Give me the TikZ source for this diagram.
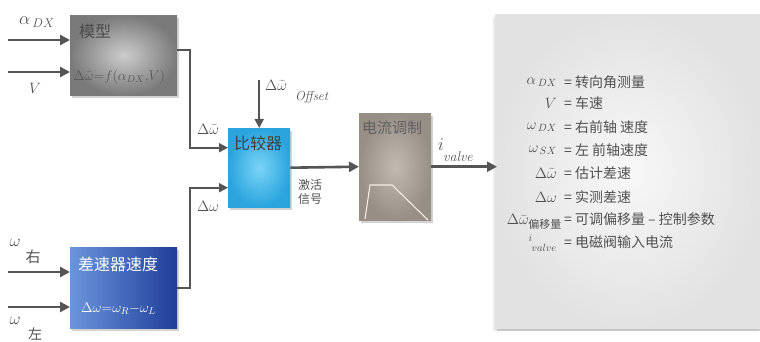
\RequirePackage{fix-cm}
\documentclass[tikz,border=0pt]{standalone}
\usepackage{fontspec}
\newfontfamily\cjk{Noto Sans CJK SC}
\usetikzlibrary{arrows.meta,shadows}
\definecolor{arr}{HTML}{555555}
\definecolor{txt}{HTML}{505050}
\definecolor{cyanA}{HTML}{7AD4F6}
\definecolor{cyanB}{HTML}{2BA4DE}
\definecolor{blueA}{HTML}{6A95DC}
\definecolor{blueB}{HTML}{1F3D98}
\definecolor{taupeA}{HTML}{C2B9B1}
\definecolor{taupeB}{HTML}{978E86}
\definecolor{panelA}{HTML}{F8F8F8}
\definecolor{panelB}{HTML}{E2E2E2}
\begin{document}
\begin{tikzpicture}[x=1pt,y=-1pt,
  box/.style={draw=none, anchor=north west, inner sep=0pt,
    drop shadow={shadow xshift=2pt,shadow yshift=-3pt,opacity=0.35}},
  inarrow/.style={draw=arr, line width=2.8pt, -{Triangle[length=10pt,width=10pt]}},
  conn/.style={draw=arr, line width=1.8pt, -{Triangle[length=9pt,width=9pt]}},
  thick conn/.style={draw=arr, line width=2.6pt, -{Triangle[length=10pt,width=10pt]}},
  cjkt/.style={font=\cjk\fontsize{16}{18}\selectfont, inner sep=0pt},
  mlab/.style={text=txt, inner sep=0pt},
  leg/.style={font=\cjk\fontsize{14}{16}\selectfont, text=txt, inner sep=0pt, anchor=west},
  legm/.style={text=txt, inner sep=0pt, anchor=east, font=\fontsize{15}{16}\selectfont}]
\useasboundingbox (0,0) rectangle (760,342);

% legend panel
\node[box, minimum width=266pt, minimum height=314pt, inner color=panelA, outer color=panelB,
  drop shadow={shadow xshift=-2pt,shadow yshift=-3pt,opacity=0.15}] (panel) at (495,14) {};

% boxes
\node[box, minimum width=107pt, minimum height=80pt, inner color=black!20, outer color=black!52] (model) at (70,15) {};
\node[box, minimum width=62pt, minimum height=79pt, inner color=cyanA, outer color=cyanB] (comp) at (228,128) {};
\node[box, minimum width=107pt, minimum height=81pt, left color=blueA, right color=blueB] (diff) at (70,247) {};
\node[box, minimum width=72pt, minimum height=107pt, inner color=taupeA, outer color=taupeB] (cur) at (359,113) {};

% box texts
\node[cjkt, text=black!70, anchor=west] (tmodel) at (79,31) {模型};
\node[mlab, text=black!65, anchor=west, font=\fontsize{14}{15}\selectfont] (fmodel) at (73,77) {$\Delta\widetilde{\omega}{=}f(\alpha_{DX}{,}V)$};
\node[cjkt, text=black!75, anchor=west] (tcomp) at (234,143) {比较器};
\node[cjkt, text=white, anchor=west] (tdiff) at (78,264) {差速器速度};
\node[mlab, text=white, anchor=west, font=\fontsize{14}{16}\selectfont] (fdiff) at (81,309) {$\Delta\omega{=}\omega_R{-}\omega_L$};
\node[cjkt, text=black!62, anchor=west, font=\cjk\fontsize{15}{17}\selectfont] (tcur) at (362,128) {电流调制};
\draw[draw=white!85!brown, line width=1.1pt] (365,219) -- (370,185) -- (392,185) -- (428,220);

% input coordinates
\coordinate (inA) at (8,40);
\coordinate (inV) at (8,72);
\coordinate (inR) at (8,272);
\coordinate (inL) at (8,307);
\coordinate (off) at (259,80);
\coordinate (jx) at (190,0);
\coordinate (outv) at (497,167);

\draw[inarrow] (inA) -- (inA -| model.west);
\draw[inarrow] (inV) -- (inV -| model.west);
\draw[inarrow] (inR) -- (inR -| diff.west);
\draw[inarrow] (inL) -- (inL -| diff.west);

\draw[conn] ([yshift=5pt]model.east) -- ([yshift=5pt]model.east -| jx) |- ([yshift=20pt]comp.west);
\draw[conn] (diff.east) -- (diff.east -| jx) |- ([yshift=-20pt]comp.west);
\draw[conn] (comp.north |- off) -- (comp.north);
\draw[thick conn] (comp.east) -- (cur.west);
\draw[thick conn] (cur.east) -- (cur.east -| outv);

% labels
\node[mlab, font=\fontsize{18}{18}\selectfont] (la) at (37,22) {$\alpha_{\,DX}$};
\node[mlab, font=\fontsize{15}{15}\selectfont] (lv) at (35,88) {$V$};
\node[mlab, font=\fontsize{17}{17}\selectfont] (lr) at (15,243) {$\omega$};
\node[mlab, font=\cjk\fontsize{15}{15}\selectfont] (lr2) at (33,257) {右};
\node[mlab, font=\fontsize{17}{17}\selectfont] (ll) at (15,321) {$\omega$};
\node[mlab, font=\cjk\fontsize{14}{14}\selectfont] (ll2) at (35,334) {左};
\node[mlab, font=\fontsize{15}{15}\selectfont] (lc1) at (208,129) {$\Delta\widetilde{\omega}$};
\node[mlab, font=\fontsize{15}{15}\selectfont] (lc2) at (208,206) {$\Delta\omega$};
\node[mlab, font=\fontsize{15}{15}\selectfont] (lo1) at (276,85) {$\Delta\widetilde{\omega}$};
\node[mlab, font=\fontsize{13}{13}\selectfont, anchor=west] (lo2) at (295,97) {\textit{Offset}};
\node[mlab, font=\cjk\fontsize{12}{14}\selectfont, align=left] (lact) at (310,192) {激活\\信号};
\node[mlab, font=\fontsize{18}{18}\selectfont] (li) at (441,145) {$i$};
\node[mlab, font=\fontsize{14}{14}\selectfont\itshape, anchor=west] (li2) at (443,157) {valve};

% legend
\node[legm] (m1) at (557,82) {$\alpha_{\,DX}$};
\node[leg] (t1) at (564,82) {=\ 转向角测量};
\node[legm] (m2) at (557,103) {$V$};
\node[leg] (t2) at (564,103) {=\ 车速};
\node[legm] (m3) at (557,127) {$\omega_{\,DX}$};
\node[leg] (t3) at (564,127) {=\ 右前轴 速度};
\node[legm] (m4) at (557,150) {$\omega_{\,SX}$};
\node[leg] (t4) at (564,150) {=\ 左 前轴速度};
\node[legm] (m5) at (557,173) {$\Delta\widetilde{\omega}$};
\node[leg] (t5) at (564,173) {=\ 估计差速};
\node[legm] (m6) at (557,197) {$\Delta\omega$};
\node[leg] (t6) at (564,197) {=\ 实测差速};
\node[legm] (m7) at (562,222) {$\Delta\widetilde{\omega}_{\mbox{\cjk\fontsize{11}{11}\selectfont 偏移量}}$};
\node[leg] (t7) at (564,219) {=\ 可调偏移量 – 控制参数};
\node[legm] (m8) at (557,243) {$^{i}_{\;valve}$};
\node[leg] (t8) at (564,242) {=\ 电磁阀输入电流};
\end{tikzpicture}
\end{document}
